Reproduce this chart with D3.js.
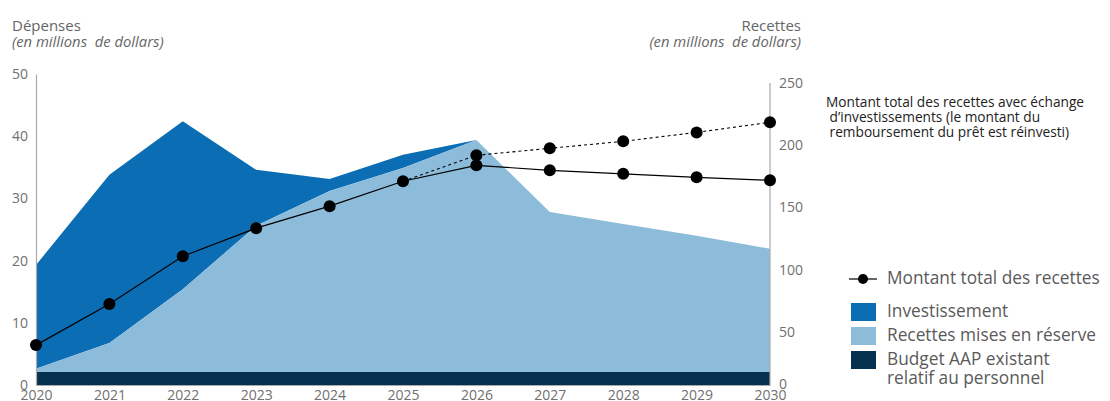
<!DOCTYPE html>
<html><head><meta charset="utf-8">
<script src="https://cdn.jsdelivr.net/npm/d3@7"></script>
<style>
body{margin:0;background:#fff;}
svg{font-family:"Open Sans",sans-serif;display:block;}
</style></head>
<body><svg id="c" width="1110" height="401"></svg>
<script>
const years = [2020,2021,2022,2023,2024,2025,2026,2027,2028,2029,2030];
const budgetAAP = [2.1,2.1,2.1,2.1,2.1,2.1,2.1,2.1,2.1,2.1,2.1];
const reserve = [0.5,4.65,13.3,23.5,29.1,32.8,37.3,25.7,23.8,21.9,19.8];
const investissement = [16.7,27.05,27.0,9.0,1.9,2.1,0,0,0,0,0];
const totalRecettes = [39.3,72.3,110.8,133.3,151,171,183.8,179.8,177,174.2,171.8];
const echangeYears = [2025,2026,2027,2028,2029,2030];
const totalEchange = [171,191.9,197.5,203.1,210.3,218.4];
const leftTicks = [0,10,20,30,40,50];
const rightTicks = [0,50,100,150,200,250];

const svg = d3.select("#c");
const x = d3.scaleLinear().domain([2020,2030]).range([36,770]);
const yL = d3.scaleLinear().domain([0,50]).range([385,74]);
const yR = d3.scaleLinear().domain([0,250]).range([394,83]);

const rows = years.map((y,i)=>({year:y,budget:budgetAAP[i],reserve:reserve[i],invest:investissement[i]}));
const stack = d3.stack().keys(["budget","reserve","invest"])(rows);
const colors = {budget:"#05304f",reserve:"#8dbbda",invest:"#0b6db3"};
const area = d3.area().x(d=>x(d.data.year)).y0(d=>yL(d[0])).y1(d=>yL(d[1]));
[2,1,0].forEach(k=>{
  svg.append("path").datum(stack[k]).attr("d",area).attr("fill",colors[stack[k].key]);
});

// axes
const gL = svg.append("g").attr("transform","translate(36,0)")
  .call(d3.axisLeft(yL).tickValues(leftTicks).tickSize(0).tickPadding(8));
gL.select(".domain").attr("stroke","#aaa").attr("stroke-width",1.2);
gL.selectAll("text").attr("fill","#707070").style("font-size","14px").style("font-family","Open Sans");

const gR = svg.append("g").attr("transform","translate(770,0)")
  .call(d3.axisRight(yR).tickValues(rightTicks).tickSize(0).tickPadding(9));
gR.select(".domain").remove();
gR.selectAll(".tick").filter(d=>d===0).attr("transform","translate(0,385)");
gR.selectAll("text").attr("fill","#707070").style("font-size","14px").style("font-family","Open Sans");
svg.append("line").attr("x1",770).attr("x2",770).attr("y1",yR(250)).attr("y2",yL(0))
  .attr("stroke","#aaa").attr("stroke-width",1.2);

const gX = svg.append("g").attr("transform","translate(0,385)")
  .call(d3.axisBottom(x).tickValues(years).tickFormat(d3.format("d")).tickSize(0).tickPadding(5));
gX.select(".domain").attr("stroke","#aaa").attr("stroke-width",1.2);
gX.selectAll("text").attr("fill","#707070").style("font-size","14px").style("font-family","Open Sans");

// lines
const line = d3.line().x(d=>x(d[0])).y(d=>yR(d[1]));
const echange = echangeYears.map((y,i)=>[y,totalEchange[i]]);
svg.append("path").datum(echange).attr("d",line).attr("fill","none")
  .attr("stroke","#000").attr("stroke-width",1.1).attr("stroke-dasharray","3,3");
const total = years.map((y,i)=>[y,totalRecettes[i]]);
svg.append("path").datum(total).attr("d",line).attr("fill","none")
  .attr("stroke","#000").attr("stroke-width",1.2);
svg.selectAll(".de").data(echange.slice(1)).enter().append("circle")
  .attr("cx",d=>x(d[0])).attr("cy",d=>yR(d[1])).attr("r",6).attr("fill","#000");
svg.selectAll(".dt").data(total).enter().append("circle")
  .attr("cx",d=>x(d[0])).attr("cy",d=>yR(d[1])).attr("r",6).attr("fill","#000");

// titles
const tcol="#666";
svg.append("text").attr("x",12).attr("y",31).text("Dépenses").attr("fill",tcol).style("font-size","15px");
svg.append("text").attr("x",12).attr("y",47).text("(en millions\u00a0 de dollars)").attr("fill",tcol)
  .style("font-size","14.8px").style("font-style","italic");
svg.append("text").attr("x",801).attr("y",31).attr("text-anchor","end").text("Recettes").attr("fill",tcol).style("font-size","15px");
svg.append("text").attr("x",801).attr("y",47).attr("text-anchor","end").text("(en millions\u00a0 de dollars)").attr("fill",tcol)
  .style("font-size","14.8px").style("font-style","italic");

// annotation
const ann = ["Montant total des recettes avec échange","\u00a0d’investissements (le montant du","\u00a0remboursement du prêt est réinvesti)"];
ann.forEach((t,i)=>svg.append("text").attr("x",826).attr("y",107+i*15).text(t)
  .attr("fill","#222").style("font-size","13.7px"));

// legend
const lg = svg.append("g");
const lcol="#5a5a5a";
const lfs="17.3px";
lg.append("line").attr("x1",849).attr("x2",877).attr("y1",279).attr("y2",279).attr("stroke","#000").attr("stroke-width",1.2);
lg.append("circle").attr("cx",863).attr("cy",279).attr("r",5).attr("fill","#000");
lg.append("text").attr("x",887).attr("y",284).text("Montant total des recettes").attr("fill",lcol).style("font-size",lfs);
const items = [["Investissement",colors.invest,303,317],["Recettes mises en réserve",colors.reserve,327,341],["Budget AAP existant",colors.budget,351,365]];
items.forEach(([t,c,ry,ty])=>{
  lg.append("rect").attr("x",851).attr("y",ry).attr("width",25).attr("height",18).attr("fill",c);
  lg.append("text").attr("x",887).attr("y",ty).text(t).attr("fill",lcol).style("font-size",lfs);
});
lg.append("text").attr("x",887).attr("y",384).text("relatif au personnel").attr("fill",lcol).style("font-size",lfs);
</script></body></html>
